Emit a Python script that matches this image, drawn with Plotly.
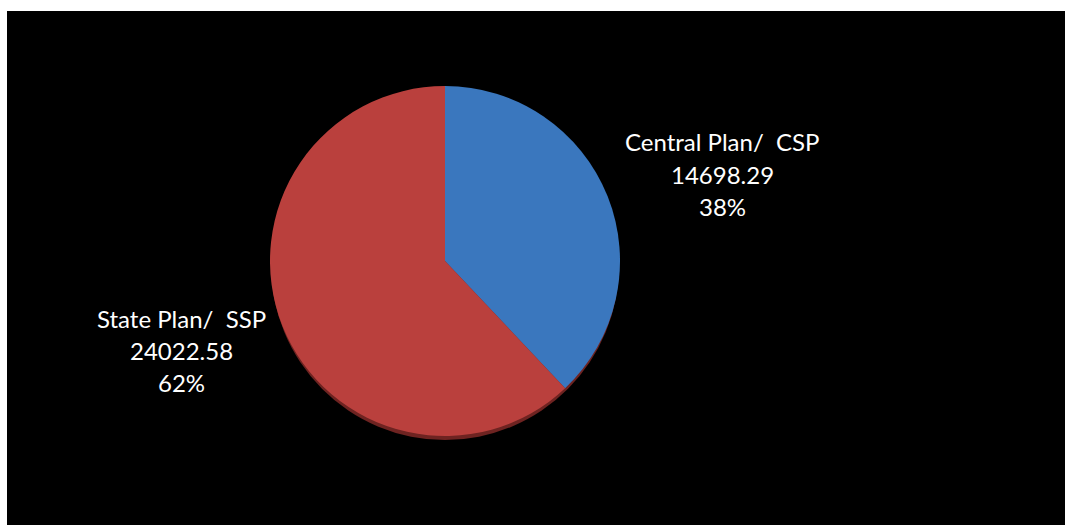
import plotly.graph_objects as go

categories = ["Central Plan/\u00a0 CSP", "State Plan/\u00a0 SSP"]
values = [14698.29, 24022.58]
colors = ["#3A77BE", "#BA403D"]

W, H = 1065, 525
cx, cy, r = 445, 261, 175
total = sum(values)

fig = go.Figure()
fig.add_trace(go.Pie(
    labels=categories, values=values, sort=False, direction="clockwise", rotation=0,
    marker=dict(colors=colors, line=dict(width=0)), textinfo="none", hoverinfo="label+value+percent",
    showlegend=False,
    domain=dict(x=[(cx - r) / W, (cx + r) / W], y=[1 - (cy + r) / H, 1 - (cy - r) / H]),
))

shapes = [
    dict(type="rect", xref="paper", yref="paper", x0=7 / W, x1=1, y0=0, y1=1 - 11 / H,
         fillcolor="black", line=dict(width=0), layer="below"),
    dict(type="circle", xref="paper", yref="paper",
         x0=(cx - r + 1) / W, x1=(cx + r - 1) / W, y0=1 - (cy + r + 4) / H, y1=1 - (cy - r + 4) / H,
         fillcolor="#6E2321", line=dict(width=0), layer="below"),
]

label_pos = [(722, [141, 174, 206]), (181, [318, 350, 382])]
annotations = []
for cat, val, (lx, ys) in zip(categories, values, label_pos):
    lines = [cat, f"{val:.2f}", f"{round(100 * val / total)}%"]
    for line, ly in zip(lines, ys):
        annotations.append(dict(text=line, x=lx / W, y=1 - ly / H, xref="paper", yref="paper",
                                showarrow=False, xanchor="center", yanchor="middle",
                                font=dict(family="Lato", size=24, color="white")))

fig.update_layout(
    width=W, height=H, margin=dict(l=0, r=0, t=0, b=0),
    paper_bgcolor="white", plot_bgcolor="black",
    shapes=shapes, annotations=annotations,
)
fig.write_html("out.html")
